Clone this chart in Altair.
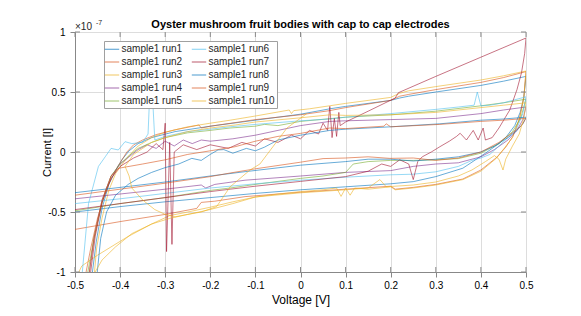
import altair as alt
import pandas as pd

FONT = "Liberation Sans"
TXT = "#262626"
AXC = "#8a8a8a"

RUN_NAMES = ["sample1 run1", "sample1 run2", "sample1 run3", "sample1 run4", "sample1 run5",
             "sample1 run6", "sample1 run7", "sample1 run8", "sample1 run9", "sample1 run10"]
RUN_COLORS = ["#0072BD", "#D95319", "#EDB120", "#7E2F8E", "#77AC30",
              "#4DBEEE", "#A2142F", "#0072BD", "#D95319", "#EDB120"]
X_TICKS = [-0.5, -0.4, -0.3, -0.2, -0.1, 0, 0.1, 0.2, 0.3, 0.4, 0.5]
Y_TICKS = [-1, -0.5, 0, 0.5, 1]
TITLE = "Oyster mushroom fruit bodies with cap to cap electrodes"

# current values in units of 1e-7 A, (voltage, current) in sweep order
RUN1_UPPER = [(0.5, 0.63), (0.45, 0.59), (0.4, 0.555), (0.3, 0.5), (0.24, 0.465), (0.22, 0.45), (0.2, 0.43),
              (0.1, 0.38), (0.065, 0.36), (0.0, 0.315), (-0.1, 0.265), (-0.2, 0.215), (-0.278, 0.17),
              (-0.33, 0.12), (-0.36, 0.07), (-0.38, 0.01), (-0.395, -0.06), (-0.405, -0.12), (-0.425, -0.27),
              (-0.44, -0.47), (-0.453, -0.75), (-0.463, -1.05)]
RUN1_LOWER = [(-0.5, -0.5), (-0.4, -0.455), (-0.3, -0.415), (-0.2, -0.38), (-0.1, -0.345), (0.0, -0.315),
              (0.1, -0.29), (0.2, -0.265), (0.25, -0.247), (0.3, -0.205), (0.36, -0.135), (0.41, -0.01),
              (0.44, 0.07), (0.457, 0.13), (0.475, 0.22), (0.487, 0.33), (0.495, 0.45), (0.5, 0.63)]

RUN2_UPPER = [(0.5, 0.67), (0.45, 0.62), (0.4, 0.58), (0.3, 0.52), (0.24, 0.48), (0.22, 0.465), (0.2, 0.43),
              (0.1, 0.37), (0.065, 0.345), (0.0, 0.31), (-0.1, 0.27), (-0.145, 0.245), (-0.2, 0.215),
              (-0.22, 0.2), (-0.225, 0.225), (-0.278, 0.185), (-0.32, 0.145), (-0.35, 0.1), (-0.37, 0.06),
              (-0.385, 0.0), (-0.405, -0.12), (-0.43, -0.3), (-0.45, -0.55), (-0.465, -0.8), (-0.478, -1.05)]
RUN2_LOWER = [(-0.5, -0.645), (-0.4, -0.58), (-0.3, -0.52), (-0.23, -0.47), (-0.22, -0.42), (-0.19, -0.41),
              (-0.123, -0.372), (0.0, -0.335), (0.1, -0.31), (0.2, -0.285), (0.21, -0.31), (0.25, -0.295),
              (0.3, -0.27), (0.36, -0.225), (0.4, -0.15), (0.435, -0.045), (0.455, 0.04), (0.471, 0.13),
              (0.485, 0.27), (0.495, 0.45), (0.5, 0.67)]

RUN3_UPPER = [(0.5, 0.675), (0.45, 0.635), (0.4, 0.6), (0.3, 0.545), (0.24, 0.51), (0.22, 0.49), (0.2, 0.455),
              (0.1, 0.405), (0.02, 0.36), (-0.015, 0.345), (-0.02, 0.32), (-0.025, 0.35), (-0.1, 0.3),
              (-0.156, 0.265), (-0.2, 0.24), (-0.25, 0.21), (-0.3, 0.165), (-0.33, 0.12), (-0.36, 0.05),
              (-0.38, -0.03), (-0.395, -0.1), (-0.41, -0.18), (-0.425, -0.32), (-0.44, -0.55), (-0.452, -0.8),
              (-0.458, -1.05)]
RUN3_LOWER = [(-0.498, -1.05), (-0.485, -0.95), (-0.45, -0.86), (-0.385, -0.71), (-0.33, -0.6), (-0.29, -0.53),
              (-0.25, -0.5), (-0.2, -0.46), (-0.15, -0.415), (-0.1, -0.375), (-0.05, -0.35), (0.0, -0.33),
              (0.05, -0.315), (0.08, -0.3), (0.09, -0.37), (0.1, -0.3), (0.11, -0.36), (0.12, -0.3),
              (0.15, -0.31), (0.2, -0.29), (0.21, -0.315), (0.25, -0.3), (0.3, -0.275), (0.36, -0.23),
              (0.4, -0.16), (0.435, -0.05), (0.47, 0.12), (0.487, 0.3), (0.496, 0.48), (0.5, 0.675)]

RUN4_UPPER = [(0.5, 0.375), (0.45, 0.35), (0.4, 0.32), (0.3, 0.28), (0.2, 0.27), (0.1, 0.26), (0.065, 0.255),
              (0.0, 0.22), (-0.05, 0.18), (-0.1, 0.14), (-0.15, 0.11), (-0.2, 0.09), (-0.22, 0.1), (-0.24, 0.07),
              (-0.26, 0.1), (-0.28, 0.05), (-0.3, 0.09), (-0.32, 0.03), (-0.34, 0.06), (-0.36, 0.02),
              (-0.38, -0.04), (-0.4, -0.1), (-0.42, -0.2), (-0.44, -0.4), (-0.457, -0.7), (-0.47, -1.05)]
RUN4_LOWER = [(-0.5, -0.39), (-0.4, -0.35), (-0.3, -0.31), (-0.22, -0.275), (-0.21, -0.3), (-0.19, -0.27),
              (-0.123, -0.235), (0.0, -0.2), (0.1, -0.17), (0.2, -0.155), (0.25, -0.12), (0.3, -0.1),
              (0.35, -0.09), (0.4, -0.04), (0.43, 0.02), (0.46, 0.1), (0.48, 0.18), (0.493, 0.27), (0.5, 0.375)]

RUN5_UPPER = [(0.5, 0.44), (0.45, 0.41), (0.4, 0.385), (0.3, 0.34), (0.2, 0.31), (0.1, 0.29), (0.0, 0.255),
              (-0.05, 0.22), (-0.08, 0.23), (-0.1, 0.215), (-0.156, 0.2), (-0.2, 0.18), (-0.25, 0.16),
              (-0.3, 0.12), (-0.33, 0.08), (-0.36, 0.03), (-0.38, -0.03), (-0.4, -0.1), (-0.42, -0.2),
              (-0.44, -0.42), (-0.458, -0.72), (-0.474, -1.05)]
RUN5_LOWER = [(-0.5, -0.49), (-0.4, -0.43), (-0.3, -0.38), (-0.2, -0.32), (-0.156, -0.3), (-0.1, -0.27),
              (0.0, -0.22), (0.05, -0.2), (0.1, -0.17), (0.117, -0.1), (0.15, -0.08), (0.2, -0.07),
              (0.25, -0.07), (0.3, -0.065), (0.35, -0.055), (0.4, -0.01), (0.44, 0.07), (0.47, 0.17),
              (0.488, 0.28), (0.5, 0.44)]

RUN6_UPPER = [(0.5, 0.46), (0.47, 0.43), (0.45, 0.41), (0.42, 0.39), (0.4, 0.385), (0.392, 0.5), (0.385, 0.39),
              (0.35, 0.375), (0.3, 0.355), (0.2, 0.32), (0.1, 0.29), (0.065, 0.275), (0.0, 0.26), (-0.1, 0.23),
              (-0.156, 0.21), (-0.2, 0.19), (-0.25, 0.17), (-0.3, 0.13), (-0.323, 0.1), (-0.328, 0.45),
              (-0.333, 0.6), (-0.338, 0.15), (-0.35, 0.08), (-0.374, 0.07), (-0.389, 0.086), (-0.404, 0.017),
              (-0.42, 0.03), (-0.433, -0.04), (-0.448, -0.12), (-0.47, -0.43), (-0.485, -1.05)]
RUN6_LOWER = [(-0.5, -0.43), (-0.4, -0.39), (-0.3, -0.345), (-0.2, -0.3), (-0.156, -0.285), (-0.1, -0.265),
              (0.0, -0.235), (0.1, -0.21), (0.2, -0.19), (0.25, -0.185), (0.3, -0.165), (0.35, -0.12),
              (0.38, -0.07), (0.4, -0.05), (0.42, -0.02), (0.44, 0.05), (0.46, 0.12), (0.48, 0.2),
              (0.493, 0.32), (0.5, 0.46)]

RUN7_UPPER = [(0.5, 0.95), (0.4, 0.79), (0.3, 0.63), (0.217, 0.494), (0.21, 0.45), (0.15, 0.34), (0.1, 0.25),
              (0.088, 0.22), (0.085, 0.33), (0.08, 0.13), (0.075, 0.28), (0.07, 0.12), (0.065, 0.38),
              (0.06, 0.18), (0.05, 0.24), (0.04, 0.15), (0.02, 0.18), (0.0, 0.11), (-0.02, 0.14), (-0.05, 0.08),
              (-0.08, 0.11), (-0.1, 0.05), (-0.13, 0.08), (-0.16, 0.03), (-0.2, 0.06), (-0.23, 0.02),
              (-0.26, 0.06), (-0.28, 0.0), (-0.285, -0.77), (-0.29, 0.08), (-0.297, -0.83), (-0.3, 0.24),
              (-0.305, 0.02), (-0.32, 0.07), (-0.34, 0.0), (-0.37, -0.05), (-0.4, -0.12), (-0.42, -0.22),
              (-0.44, -0.42), (-0.455, -0.7), (-0.467, -1.05)]
RUN7_LOWER = [(-0.5, -0.48), (-0.4, -0.43), (-0.3, -0.38), (-0.2, -0.33), (-0.156, -0.31), (-0.1, -0.285),
              (0.0, -0.245), (0.1, -0.205), (0.15, -0.16), (0.18, -0.1), (0.2, -0.12), (0.22, -0.065),
              (0.24, -0.1), (0.25, -0.23), (0.26, -0.08), (0.27, -0.04), (0.29, 0.0), (0.309, 0.044),
              (0.33, 0.09), (0.346, 0.13), (0.354, 0.156), (0.368, 0.1), (0.383, 0.18), (0.394, 0.1),
              (0.405, 0.2), (0.41, 0.1), (0.425, 0.12), (0.44, 0.2), (0.464, 0.35), (0.48, 0.52),
              (0.49, 0.66), (0.497, 0.82), (0.5, 0.95)]

RUN8_UPPER = [(0.5, 0.29), (0.45, 0.275), (0.4, 0.265), (0.309, 0.235), (0.2, 0.21), (0.1, 0.19),
              (0.065, 0.18), (0.0, 0.14), (-0.05, 0.1), (-0.08, 0.04), (-0.1, 0.01), (-0.12, 0.03),
              (-0.15, -0.01), (-0.17, 0.02), (-0.183, 0.017), (-0.2, -0.02), (-0.22, -0.07), (-0.241, -0.053),
              (-0.27, -0.1), (-0.3, -0.13), (-0.33, -0.17), (-0.36, -0.22), (-0.382, -0.27), (-0.41, -0.36),
              (-0.43, -0.5), (-0.443, -0.72), (-0.452, -1.05)]
RUN8_LOWER = [(-0.5, -0.339), (-0.4, -0.295), (-0.3, -0.25), (-0.2, -0.2), (-0.123, -0.164), (0.0, -0.11),
              (0.1, -0.08), (0.15, -0.06), (0.2, -0.06), (0.25, -0.075), (0.3, -0.06), (0.35, -0.04),
              (0.4, 0.0), (0.43, 0.05), (0.46, 0.12), (0.48, 0.18), (0.494, 0.24), (0.5, 0.29)]

RUN9_UPPER = [(0.5, 0.28), (0.45, 0.265), (0.4, 0.255), (0.309, 0.23), (0.2, 0.21), (0.19, 0.235),
              (0.185, 0.215), (0.1, 0.195), (0.065, 0.2), (0.0, 0.155), (-0.05, 0.13), (-0.1, 0.09),
              (-0.145, 0.044), (-0.2, 0.01), (-0.25, -0.02), (-0.3, -0.065), (-0.35, -0.1), (-0.404, -0.136),
              (-0.42, -0.2), (-0.44, -0.4), (-0.458, -0.72), (-0.47, -1.05)]
RUN9_LOWER = [(-0.5, -0.36), (-0.4, -0.31), (-0.3, -0.26), (-0.2, -0.205), (-0.156, -0.175), (-0.1, -0.14),
              (0.0, -0.085), (0.05, -0.055), (0.1, -0.05), (0.15, -0.04), (0.198, -0.053), (0.25, -0.05),
              (0.3, -0.07), (0.35, -0.05), (0.4, 0.0), (0.44, 0.08), (0.47, 0.16), (0.49, 0.22), (0.5, 0.28)]

RUN10_UPPER = [(0.5, 0.41), (0.45, 0.39), (0.4, 0.37), (0.3, 0.33), (0.2, 0.31), (0.1, 0.305), (0.065, 0.31),
               (0.0, 0.285), (-0.1, 0.25), (-0.145, 0.225), (-0.2, 0.2), (-0.25, 0.17), (-0.3, 0.12),
               (-0.33, 0.08), (-0.35, 0.03), (-0.37, -0.02), (-0.389, -0.12), (-0.38, -0.2), (-0.374, -0.3),
               (-0.35, -0.4), (-0.323, -0.48), (-0.3, -0.52), (-0.278, -0.54), (-0.25, -0.52), (-0.22, -0.5),
               (-0.186, -0.455), (-0.156, -0.29), (-0.112, -0.15), (-0.09, -0.1), (-0.06, 0.05),
               (-0.03, 0.2), (0.014, 0.32)]
RUN10_LOWER = [(-0.463, -1.05), (-0.44, -0.9), (-0.41, -0.79), (-0.374, -0.68), (-0.33, -0.6), (-0.29, -0.553),
               (-0.25, -0.52), (-0.204, -0.483), (-0.15, -0.43), (-0.1, -0.375), (0.0, -0.34), (0.1, -0.315),
               (0.15, -0.3), (0.176, -0.23), (0.19, -0.29), (0.25, -0.275), (0.3, -0.25), (0.35, -0.2),
               (0.38, -0.15), (0.41, -0.08), (0.43, -0.03), (0.44, -0.06), (0.449, -0.15), (0.455, -0.06),
               (0.47, 0.05), (0.485, 0.15), (0.495, 0.28), (0.5, 0.41)]

UPPERS = [RUN1_UPPER, RUN2_UPPER, RUN3_UPPER, RUN4_UPPER, RUN5_UPPER,
          RUN6_UPPER, RUN7_UPPER, RUN8_UPPER, RUN9_UPPER, RUN10_UPPER]
LOWERS = [RUN1_LOWER, RUN2_LOWER, RUN3_LOWER, RUN4_LOWER, RUN5_LOWER,
          RUN6_LOWER, RUN7_LOWER, RUN8_LOWER, RUN9_LOWER, RUN10_LOWER]

rows = []
for name, up, lo in zip(RUN_NAMES, UPPERS, LOWERS):
    for branch, pts in (("upper", up), ("lower", lo)):
        for k, (v, i) in enumerate(pts):
            rows.append({"run": name, "branch": branch, "k": k, "V": v, "I": i})
df = pd.DataFrame(rows)

W, H = 451, 240
TICK = 5
xs = alt.Scale(domain=[-0.5, 0.5], nice=False, zero=False)
ys = alt.Scale(domain=[-1, 1], nice=False, zero=False)
X_AXIS = alt.Axis(values=X_TICKS, title="Voltage [V]", labelExpr="'' + datum.value", labelPadding=3,
                  labelFlush=False, titleX=W / 2, titleY=31, titleBaseline="alphabetic",
                  titleFontWeight="normal", titleFontSize=12)
Y_AXIS = alt.Axis(values=Y_TICKS, title="Current [I]", labelExpr="'' + datum.value", labelPadding=5,
                  labelFlush=False, titleX=-25, titleY=H / 2, titleAngle=270, titleBaseline="alphabetic",
                  titleFontWeight="normal", titleFontSize=11)

lines = alt.Chart(df).mark_line(clip=True, strokeWidth=0.7, opacity=0.85).encode(
    x=alt.X("V:Q", scale=xs, axis=X_AXIS),
    y=alt.Y("I:Q", scale=ys, axis=Y_AXIS),
    color=alt.Color("run:N", scale=alt.Scale(domain=RUN_NAMES, range=RUN_COLORS),
                    legend=alt.Legend(title=None, orient="none", legendX=29, legendY=9, columns=2,
                                      symbolType="M-1.2,0H1.2", symbolSize=144, symbolStrokeWidth=1,
                                      symbolOpacity=0.7,
                                      labelFont=FONT, labelFontSize=10, labelColor=TXT, labelOffset=3,
                                      columnPadding=7, rowPadding=1, padding=1.5,
                                      fillColor="white", strokeColor="#a0a0a0")),
    detail="branch:N",
    order="k:Q",
)

xt = pd.DataFrame({"t": X_TICKS})
yt = pd.DataFrame({"t": Y_TICKS})
bottom_ticks = alt.Chart(xt).mark_rule(color=AXC, strokeWidth=1).encode(
    x=alt.X("t:Q", scale=xs, axis=X_AXIS), y=alt.value(H), y2=alt.value(H - TICK))
top_ticks = alt.Chart(xt).mark_rule(color=AXC, strokeWidth=1).encode(
    x=alt.X("t:Q", scale=xs, axis=X_AXIS), y=alt.value(0), y2=alt.value(TICK))
left_ticks = alt.Chart(yt).mark_rule(color=AXC, strokeWidth=1).encode(
    y=alt.Y("t:Q", scale=ys, axis=Y_AXIS), x=alt.value(0), x2=alt.value(TICK))
right_ticks = alt.Chart(yt).mark_rule(color=AXC, strokeWidth=1).encode(
    y=alt.Y("t:Q", scale=ys, axis=Y_AXIS), x=alt.value(W), x2=alt.value(W - TICK))

exp_base = alt.Chart(pd.DataFrame({"s": ["×10"]})).mark_text(
    align="left", baseline="alphabetic", font=FONT, fontSize=10, color=TXT).encode(
    text="s:N", x=alt.value(0), y=alt.value(-2.5))
exp_sup = alt.Chart(pd.DataFrame({"s": ["-7"]})).mark_text(
    align="left", baseline="alphabetic", font=FONT, fontSize=7, color=TXT).encode(
    text="s:N", x=alt.value(21), y=alt.value(-7))
title_txt = alt.Chart(pd.DataFrame({"s": [TITLE]})).mark_text(
    align="center", baseline="alphabetic", font=FONT, fontSize=11, fontWeight="bold", color="#000000").encode(
    text="s:N", x=alt.value(W / 2), y=alt.value(-4))

chart = alt.layer(lines, bottom_ticks, top_ticks, left_ticks, right_ticks,
                  exp_base, exp_sup, title_txt).properties(
    width=W, height=H,
    padding={"left": 67, "top": 24, "right": 40, "bottom": 40},
    autosize=alt.AutoSizeParams(type="none"),
).configure_view(stroke=AXC, strokeWidth=1).configure_axis(
    domain=False, ticks=False, grid=False,
    labelFont=FONT, labelFontSize=10, labelColor=TXT,
    titleFont=FONT, titleColor=TXT, titleFontWeight="normal",
).configure(background="white")

chart.save("out.html", embed_options={"renderer": "svg", "actions": False})
